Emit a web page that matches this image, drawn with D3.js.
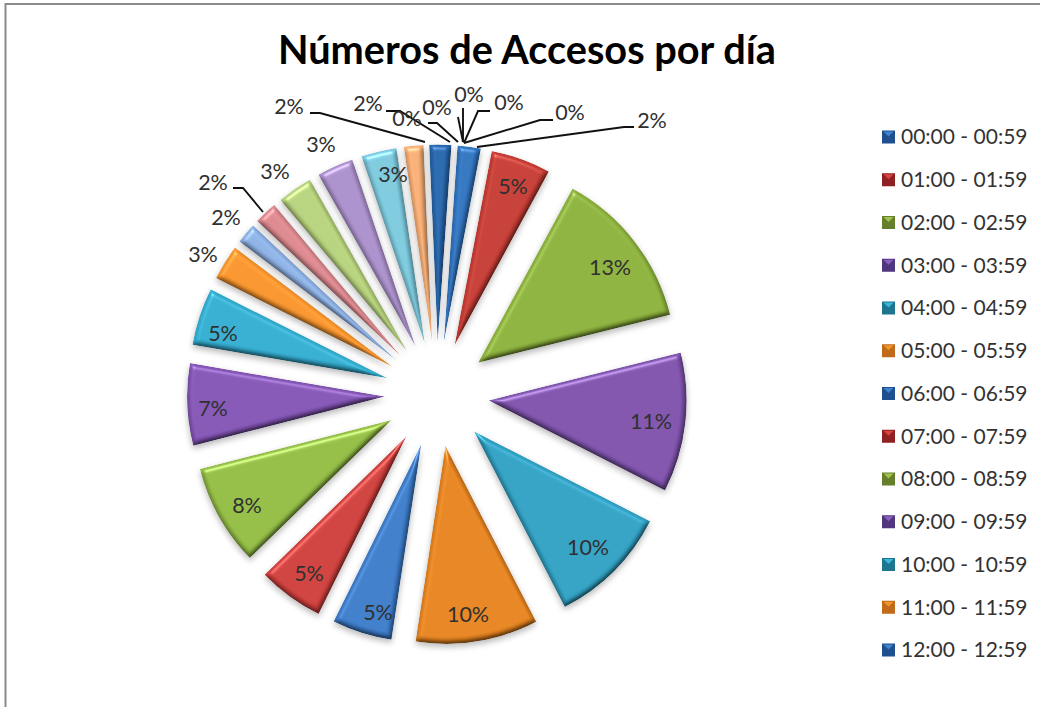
<!DOCTYPE html>
<html><head><meta charset="utf-8">
<style>html,body{margin:0;padding:0;background:#fff}svg{display:block}text{font-family:Lato,"Open Sans",sans-serif}</style>
<script src="https://cdn.jsdelivr.net/npm/d3@7"></script></head>
<body><svg id="c" width="1040" height="707"></svg>
<script>
const categories=["00:00 - 00:59","01:00 - 01:59","02:00 - 02:59","03:00 - 03:59","04:00 - 04:59","05:00 - 05:59","06:00 - 06:59","07:00 - 07:59","08:00 - 08:59","09:00 - 09:59","10:00 - 10:59","11:00 - 11:59","12:00 - 12:59","13:00 - 13:59","14:00 - 14:59","15:00 - 15:59","16:00 - 16:59","17:00 - 17:59","18:00 - 18:59","19:00 - 19:59","20:00 - 20:59","21:00 - 21:59","22:00 - 22:59","23:00 - 23:59"];
const values=[1.9,4.9,13.2,11.4,9.9,10,4.9,5.4,8.3,6.7,4.7,2.9,1.7,1.9,2.9,3,2.9,1.6,1.8,0,0,0,0,0];
const valueLabels=["2%","5%","13%","11%","10%","10%","5%","5%","8%","7%","5%","3%","2%","2%","3%","3%","3%","2%","2%","0%","0%","0%","0%","0%"];
const colors=["#2f70ba","#c03a32","#89ad3a","#7a4fa6","#2f9dbf","#e0801e","#3a78c4","#c93d3a","#8fb842","#7f52b0","#31a8ca","#f2902a","#8aade0","#d6848a","#b2cd78","#a68cc6","#79c4d8","#f2aa72","#2563a8","#2f70ba","#c03a32","#89ad3a","#7a4fa6","#2f9dbf"];
const legendColors=["#1f4f8f","#8f2024","#667f2a","#50357f","#1d7590","#c06a1a"];
const legendHighlights=["#3f84cf","#d8453f","#a3c452","#8a62bd","#3fb6d8","#f0962c"];
const legendShown=13;
const title="Números de Accesos por día";
// label layout: centre of each value label, in slice order
const labelAt=[[652,120],[513,186],[610,267],[651,421],[588,547],[468,614],[378,612],[309,573],[247,505],[213,408],[223,333],[203,254],[226,217],[213,182],[275,171],[321,144],[393,174],[289,106],[368,103],[407,118],[437,107],[469,94],[509,102],[570,112]];
// leader line layout, per slice index
const leaders={0:[[634,127],[624,127],[477,147]],13:[[233,188],[243,188],[263,212]],17:[[310,113],[320,113],[425,142]],18:[[386,111],[400,111],[450,142]],19:[[428,123],[437,123],[458,142]],20:[[458,117],[463,142]],21:[[463,108],[463,142]],22:[[490,111],[478,111],[464,143]],23:[[553,120],[540,120],[464,143]]};
const deg=Math.PI/180, cx=437, cy=394.5, R=198, explode=52;

const svg=d3.select("#c");
const defs=svg.append("defs");
const f=defs.append("filter").attr("id","bevel").attr("x","-20%").attr("y","-20%").attr("width","150%").attr("height","150%").attr("color-interpolation-filters","sRGB");
f.append("feGaussianBlur").attr("in","SourceAlpha").attr("stdDeviation",2.6).attr("result","bump");
const dl=f.append("feDiffuseLighting").attr("in","bump").attr("surfaceScale",2.6).attr("diffuseConstant",1.13).attr("lighting-color","#fff").attr("result","diff");
dl.append("feDistantLight").attr("azimuth",250).attr("elevation",62);
f.append("feComposite").attr("in","SourceGraphic").attr("in2","diff").attr("operator","arithmetic").attr("k1",1).attr("k2",0).attr("k3",0).attr("k4",0).attr("result","lit");
const sl=f.append("feSpecularLighting").attr("in","bump").attr("surfaceScale",2.6).attr("specularConstant",.3).attr("specularExponent",45).attr("lighting-color","#fff").attr("result","spec");
sl.append("feDistantLight").attr("azimuth",250).attr("elevation",55);
f.append("feComposite").attr("in","spec").attr("in2","SourceAlpha").attr("operator","in").attr("result","specIn");
f.append("feComposite").attr("in","lit").attr("in2","specIn").attr("operator","arithmetic").attr("k1",0).attr("k2",1).attr("k3",1).attr("k4",0).attr("result","sum");
f.append("feComposite").attr("in","sum").attr("in2","SourceAlpha").attr("operator","in").attr("result","body");
f.append("feGaussianBlur").attr("in","SourceAlpha").attr("stdDeviation",3).attr("result","sb");
f.append("feOffset").attr("in","sb").attr("dx",0).attr("dy",3).attr("result","so");
f.append("feComponentTransfer").attr("in","so").attr("result","shadow").append("feFuncA").attr("type","linear").attr("slope",.28);
const m=f.append("feMerge");m.append("feMergeNode").attr("in","shadow");m.append("feMergeNode").attr("in","body");

// frame
svg.append("path").attr("d","M5.5,707V4H1040").attr("fill","none").attr("stroke","#8a8a8a").attr("stroke-width",2);

svg.append("text").attr("x",527).attr("y",64).attr("text-anchor","middle").attr("font-size",39.7).attr("font-weight",700).attr("fill","#000").text(title);

const pie=d3.pie().sort(null).value(d=>d).startAngle(4*deg).endAngle(364*deg);
const arcs=pie(values);
const arc=d3.arc().innerRadius(0).outerRadius(R);
const g=svg.append("g").attr("transform",`translate(${cx},${cy})`);
g.selectAll("path.s").data(arcs.filter(d=>d.value>0)).join("path").attr("class","s")
 .attr("d",arc).attr("fill",d=>colors[d.index]).attr("filter","url(#bevel)")
 .attr("transform",d=>{const a=(d.startAngle+d.endAngle)/2;return `translate(${explode*Math.sin(a)},${-explode*Math.cos(a)})`;});

const line=d3.line();
svg.append("g").selectAll("path").data(Object.values(leaders)).join("path").attr("d",line).attr("fill","none").attr("stroke","#111").attr("stroke-width",1.9);

svg.append("g").selectAll("text").data(valueLabels).join("text")
 .attr("x",(d,i)=>labelAt[i][0]).attr("y",(d,i)=>labelAt[i][1]).attr("dy","0.35em")
 .attr("text-anchor","middle").attr("font-size",21.5).attr("fill","#303030").text(d=>d);

// legend
const y=d3.scalePoint().domain(categories.slice(0,legendShown)).range([137,650]);
const lg=svg.append("g").selectAll("g").data(categories.slice(0,legendShown)).join("g").attr("transform",d=>`translate(882,${y(d)})`);
lg.append("rect").attr("x",0).attr("y",-6.5).attr("width",13).attr("height",13).attr("fill",(d,i)=>legendColors[i%6]);
lg.append("path").attr("d","M1.5,-5.5H11.5L6.5,-0.5Z").attr("fill",(d,i)=>legendHighlights[i%6]);
lg.append("text").attr("x",19).attr("dy","0.35em").attr("font-size",21).attr("fill","#333").text(d=>d);
</script></body></html>
